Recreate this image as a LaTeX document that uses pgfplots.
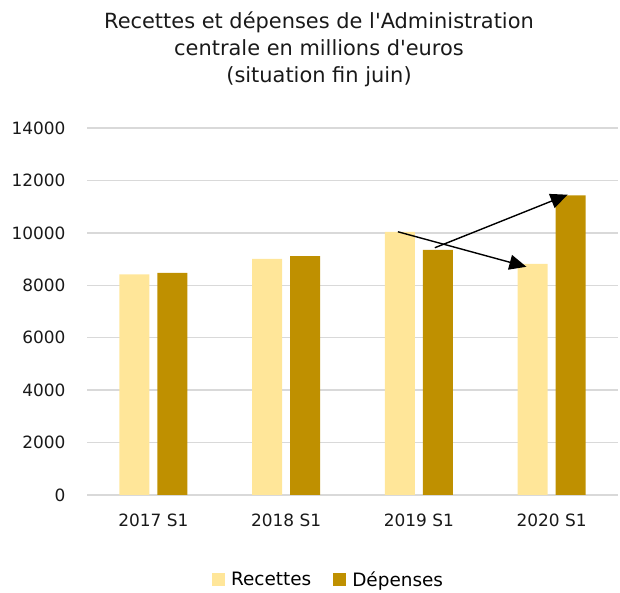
\documentclass[border=0pt]{standalone}
\usepackage{fontspec}
\setmainfont{DejaVu Sans}
\usepackage{pgfplots}
\pgfplotsset{compat=1.18}
\usetikzlibrary{arrows.meta}
\definecolor{rec}{HTML}{FFE699}
\definecolor{dep}{HTML}{BF9000}
\definecolor{gridc}{HTML}{D9D9D9}
\begin{document}
\begin{tikzpicture}
\useasboundingbox (0bp,0bp) rectangle (620bp,593bp);
\node[align=center, font=\fontsize{21}{27}\selectfont, text=black!90] at (319bp,544bp)
  {Recettes et dépenses de l\textquotesingle Administration\\centrale en millions d\textquotesingle euros\\(situation fin juin)};
\begin{axis}[
  at={(87bp,98bp)}, anchor=south west,
  scale only axis, width=531bp, height=367bp,
  xmin=-0.5, xmax=3.5, ymin=0, ymax=14000,
  xtick={0,1,2,3}, xticklabels={2017 S1,2018 S1,2019 S1,2020 S1},
  ytick={0,2000,...,14000},
  scaled y ticks=false,
  /pgf/number format/.cd, 1000 sep={}, assume math mode=true, /pgfplots/.cd,
  ymajorgrids, grid style={gridc, line width=1.3bp},
  axis x line*=bottom, axis y line*=left,
  x axis line style={gridc, line width=1.3bp, -},
  y axis line style={draw=none},
  major tick length=0pt,
  tick label style={font=\fontsize{17}{20}\selectfont, text=black!90},
  yticklabel style={xshift=-18bp},
  xticklabel style={yshift=-15bp},
  legend columns=2,
  legend style={draw=none, fill=none, at={(0.455,-0.2316)}, anchor=center,
    font=\fontsize{18.5}{21}\selectfont, column sep=4bp,
    /tikz/every even column/.append style={column sep=20bp}},
  clip=false,
]
\addplot[ybar, bar width=30bp, bar shift=-19bp, fill=rec, draw=none,
  legend image code/.code={\fill[rec] (0bp,-6.5bp) rectangle (13bp,6.5bp);}]
  coordinates {(0,8412) (1,9011) (2,10042) (3,8820)};
\addlegendentry{Recettes}
\addplot[ybar, bar width=30bp, bar shift=19bp, fill=dep, draw=none,
  legend image code/.code={\fill[dep] (0bp,-6.5bp) rectangle (13bp,6.5bp);}]
  coordinates {(0,8476) (1,9114) (2,9355) (3,11428)};
\addlegendentry{Dépenses}
\addplot[forget plot, sharp plot, black, line width=1.4bp, -{Triangle[length=17bp,width=15bp]}]
  coordinates {(1.842,10042) (2.81,8706)};
\addplot[forget plot, sharp plot, black, line width=1.4bp, -{Triangle[length=17bp,width=15bp]}]
  coordinates {(2.12,9431) (3.12,11455)};
\end{axis}
\end{tikzpicture}
\end{document}
